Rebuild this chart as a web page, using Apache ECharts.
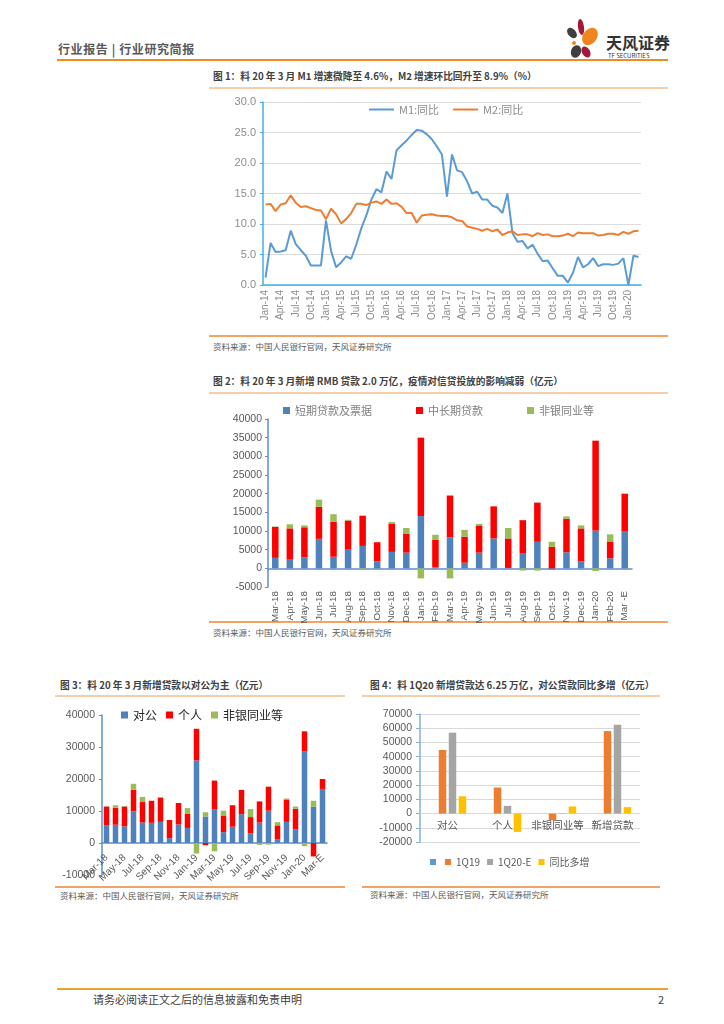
<!DOCTYPE html>
<html><head><meta charset="utf-8">
<script src="https://cdn.jsdelivr.net/npm/echarts/dist/echarts.min.js"></script>
<style>
body{margin:0;background:#fff;width:724px;height:1024px;position:relative;overflow:hidden;font-family:"Noto Sans CJK SC","Noto Sans",sans-serif;}
.t{position:absolute;white-space:nowrap;line-height:1.2;}
.ttl{font-size:9.7px;font-weight:bold;color:#404040;}
.src{font-size:8.5px;color:#595959;}
.ch{position:absolute;left:0;top:0;width:724px;height:1024px;}
.ln{position:absolute;}
.pt{position:absolute;border-radius:50%;}
</style></head>
<body>
<!-- header -->
<div class="t" style="left:58px;top:42px;font-size:12px;letter-spacing:0.6px;font-weight:bold;color:#595959;">行业报告 | 行业研究简报</div>
<div class="pt" style="left:568px;top:27px;width:8px;height:12px;background:#3f3f3f;transform:rotate(-40deg);"></div>
<div class="pt" style="left:578px;top:19px;width:6px;height:16px;background:#a3193a;transform:rotate(-8deg);"></div>
<div class="pt" style="left:583px;top:27px;width:14px;height:19px;background:#f0851e;transform:rotate(35deg);"></div>
<div class="pt" style="left:572px;top:41px;width:4px;height:4px;background:#f0851e;"></div>
<div class="pt" style="left:571px;top:45px;width:10px;height:13px;background:#3f3f3f;transform:rotate(20deg);"></div>
<div class="pt" style="left:582px;top:46px;width:8px;height:12px;background:#a3193a;transform:rotate(-30deg);"></div>
<div class="t" style="left:606px;top:33px;font-size:16px;font-weight:bold;color:#333;">天风证券</div>
<div class="t" style="left:608px;top:52px;font-size:6px;color:#333;">TF SECURITIES</div>
<div class="ln" style="left:57px;top:59px;width:611px;height:2px;background:#f08c1e;"></div>

<!-- chart 1 text -->
<div class="t ttl" style="left:213px;top:71px;">图 1：料 20 年 3 月 M1 增速微降至 4.6%，M2 增速环比回升至 8.9%（%）</div>
<div class="ln" style="left:209px;top:87px;width:459px;height:2px;background:#f8cdaa;"></div>
<div class="ln" style="left:209px;top:335px;width:459px;height:1.5px;background:#f2a366;"></div>
<div class="t src" style="left:213px;top:341px;">资料来源：中国人民银行官网，天风证券研究所</div>

<!-- chart 2 text -->
<div class="t ttl" style="left:213px;top:376px;">图 2：料 20 年 3 月新增 RMB 贷款 2.0 万亿，疫情对信贷投放的影响减弱（亿元）</div>
<div class="ln" style="left:209px;top:392px;width:459px;height:2px;background:#f8cdaa;"></div>
<div class="ln" style="left:209px;top:621px;width:459px;height:1.5px;background:#f2a366;"></div>
<div class="t src" style="left:213px;top:627px;">资料来源：中国人民银行官网，天风证券研究所</div>

<!-- chart 3 text -->
<div class="t ttl" style="left:60px;top:680px;">图 3：料 20 年 3 月新增贷款以对公为主（亿元）</div>
<div class="ln" style="left:55px;top:695px;width:290px;height:2px;background:#f8cdaa;"></div>
<div class="ln" style="left:55px;top:886px;width:290px;height:1.5px;background:#f2a366;"></div>
<div class="t src" style="left:60px;top:890px;">资料来源：中国人民银行官网，天风证券研究所</div>

<!-- chart 4 text -->
<div class="t ttl" style="left:370px;top:680px;">图 4：料 1Q20 新增贷款达 6.25 万亿，对公贷款同比多增（亿元）</div>
<div class="ln" style="left:362px;top:695px;width:298px;height:2px;background:#f8cdaa;"></div>
<div class="ln" style="left:362px;top:886px;width:298px;height:1.5px;background:#f2a366;"></div>
<div class="t src" style="left:370px;top:889px;">资料来源：中国人民银行官网，天风证券研究所</div>

<!-- footer -->
<div class="ln" style="left:57px;top:988px;width:611px;height:2px;background:#f0a030;"></div>
<div class="t" style="left:93px;top:993px;font-size:11px;color:#404040;">请务必阅读正文之后的信息披露和免责申明</div>
<div class="t" style="left:658px;top:993px;font-size:11px;color:#404040;">2</div>

<div id="c1" class="ch"></div>
<div id="c2" class="ch"></div>
<div id="c3" class="ch"></div>
<div id="c4" class="ch"></div>

<script>
// ---------- Chart 1 data ----------
const months1 = [
'Jan-14','Feb-14','Mar-14','Apr-14','May-14','Jun-14','Jul-14','Aug-14','Sep-14','Oct-14','Nov-14','Dec-14',
'Jan-15','Feb-15','Mar-15','Apr-15','May-15','Jun-15','Jul-15','Aug-15','Sep-15','Oct-15','Nov-15','Dec-15',
'Jan-16','Feb-16','Mar-16','Apr-16','May-16','Jun-16','Jul-16','Aug-16','Sep-16','Oct-16','Nov-16','Dec-16',
'Jan-17','Feb-17','Mar-17','Apr-17','May-17','Jun-17','Jul-17','Aug-17','Sep-17','Oct-17','Nov-17','Dec-17',
'Jan-18','Feb-18','Mar-18','Apr-18','May-18','Jun-18','Jul-18','Aug-18','Sep-18','Oct-18','Nov-18','Dec-18',
'Jan-19','Feb-19','Mar-19','Apr-19','May-19','Jun-19','Jul-19','Aug-19','Sep-19','Oct-19','Nov-19','Dec-19',
'Jan-20','Feb-20','Mar-20'];
const m1 = [
1.2,6.9,5.4,5.5,5.7,8.9,6.7,5.7,4.8,3.2,3.2,3.2,
10.6,5.6,2.9,3.7,4.7,4.3,6.6,9.3,11.4,14.0,15.7,15.2,
18.6,17.4,22.1,22.9,23.7,24.6,25.4,25.3,24.7,23.9,22.7,21.4,
14.5,21.4,18.8,18.5,17.0,15.0,15.3,14.0,14.0,13.0,12.7,11.8,
15.0,8.5,7.1,7.2,6.0,6.6,5.1,3.9,4.0,2.7,1.5,1.5,
0.4,2.0,4.6,2.9,3.4,4.4,3.1,3.4,3.4,3.3,3.5,4.4,
0.0,4.8,4.6];
const m2 = [
13.2,13.3,12.1,13.2,13.4,14.7,13.5,12.8,12.9,12.6,12.3,12.2,
10.8,12.5,11.6,10.1,10.8,11.8,13.3,13.3,13.1,13.5,13.7,13.3,
14.0,13.3,13.4,12.8,11.8,11.8,10.2,11.4,11.5,11.6,11.4,11.3,
11.3,11.1,10.6,10.5,9.6,9.4,9.2,8.9,9.2,8.8,9.1,8.2,
8.6,8.8,8.2,8.3,8.3,8.0,8.5,8.2,8.3,8.0,8.0,8.1,
8.4,8.0,8.6,8.5,8.5,8.5,8.1,8.2,8.4,8.4,8.2,8.7,
8.4,8.8,8.9];

// ---------- Chart 2 data ----------
const months2 = ['Mar-18','Apr-18','May-18','Jun-18','Jul-18','Aug-18','Sep-18','Oct-18','Nov-18','Dec-18','Jan-19','Feb-19','Mar-19','Apr-19','May-19','Jun-19','Jul-19','Aug-19','Sep-19','Oct-19','Nov-19','Dec-19','Jan-20','Feb-20','Mar -E'];
const shortLoans = [2800,2500,3000,7900,3100,5000,6000,1900,4400,4200,14000,300,8300,1500,4200,8000,100,4100,7100,-300,4300,1900,10100,2700,10000];
const mltLoans   = [8300,8200,8000,8600,9400,7800,8100,5100,7600,5000,21000,7300,11200,7000,7300,8600,7900,8800,10500,5800,9000,8800,24100,4500,10000];
const otherLoans2= [100,1100,500,1900,2000,200,-200,0,400,1600,-2700,1400,-2700,1800,400,0,2800,-600,-600,1300,600,800,-700,1900,0];

// ---------- Chart 3 data ----------
const months3 = ['Mar-18','Apr-18','May-18','Jun-18','Jul-18','Aug-18','Sep-18','Oct-18','Nov-18','Dec-18','Jan-19','Feb-19','Mar-19','Apr-19','May-19','Jun-19','Jul-19','Aug-19','Sep-19','Oct-19','Nov-19','Dec-19','Jan-20','Feb-20','Mar-E'];
const corpLoans  = [5600,5700,5200,9900,6400,6300,6600,1500,5800,4700,25800,8300,10600,3400,5100,9000,3000,6400,10100,1200,6600,4200,28600,11300,16900];
const persLoans  = [5800,5300,6200,6700,6400,6900,7600,5700,6700,4500,9900,-700,8900,5200,6700,7600,5100,6600,7500,4300,7000,6500,6300,-4200,3100];
const otherLoans3= [0,800,100,1900,1600,-200,-200,0,0,1700,-3300,1300,-2600,1500,0,0,2500,-600,-500,1000,300,700,-1000,1900,0];

// ---------- Chart 4 data ----------
const cats4 = ['对公','个人','非银同业等','新增贷款'];
const q1_19 = [44700,18300,-4700,58000];
const q1_20E = [56900,5400,300,62500];
const yoyAdd = [12200,-12900,5000,4500];

const FONT = '"Liberation Sans","Noto Sans CJK SC",sans-serif';
const CJK = '"Noto Sans CJK SC",sans-serif';
const plain = v => String(v);

// ---------- Chart 1 ----------
const axisCyan = '#3fb0e6';
echarts.init(document.getElementById('c1')).setOption({
  animation:false,
  textStyle:{fontFamily:FONT},
  legend:{left:363, top:99, itemWidth:25, itemHeight:2, itemGap:13,
    textStyle:{color:'#8c8c8c',fontSize:11,fontFamily:CJK},
    data:['M1:同比','M2:同比']},
  grid:{left:263, right:83, top:102, bottom:739, containLabel:false},
  xAxis:{type:'category', data:months1, boundaryGap:true,
    axisLine:{lineStyle:{color:axisCyan,width:1.5}},
    axisTick:{interval:0,length:3,lineStyle:{color:axisCyan}},
    axisLabel:{interval:2, rotate:90, fontSize:10, color:'#8c8c8c', margin:5}},
  yAxis:{type:'value', min:0, max:30, interval:5,
    axisLine:{show:true,lineStyle:{color:axisCyan,width:1.5}},
    axisTick:{show:true,length:3,lineStyle:{color:axisCyan}},
    axisLabel:{formatter:v=>v.toFixed(1), color:'#8c8c8c', fontSize:11, margin:7},
    splitLine:{lineStyle:{color:'#dcdcdc'}}},
  series:[
    {name:'M1:同比', type:'line', data:m1, symbol:'none', lineStyle:{width:2,color:'#5b9bd5'}, itemStyle:{color:'#5b9bd5'}},
    {name:'M2:同比', type:'line', data:m2, symbol:'none', lineStyle:{width:2,color:'#ed7d31'}, itemStyle:{color:'#ed7d31'}}
  ]
});

// ---------- Chart 2 ----------
const blue2 = '#5b8fd0';
echarts.init(document.getElementById('c2')).setOption({
  animation:false,
  textStyle:{fontFamily:FONT},
  legend:{left:278, top:400, itemWidth:7, itemHeight:7, itemGap:44, icon:'rect',
    textStyle:{color:'#7f7f7f',fontSize:11,fontFamily:CJK},
    data:['短期贷款及票据','中长期贷款','非银同业等']},
  grid:{left:268, right:92, top:419, bottom:437},
  xAxis:[
    {type:'category', data:months2, position:'bottom',
      axisLine:{onZero:true,lineStyle:{color:blue2,width:1.5}},
      axisTick:{length:3,lineStyle:{color:blue2}},
      axisLabel:{show:false}},
    {type:'category', data:months2, position:'bottom',
      axisLine:{show:false,onZero:false}, axisTick:{show:false},
      axisLabel:{interval:0, rotate:90, fontSize:9.8, color:'#595959', margin:4}}
  ],
  yAxis:{type:'value', min:-5000, max:40000, interval:5000,
    axisLine:{show:true,lineStyle:{color:blue2,width:1.5}},
    axisTick:{show:true,length:3,lineStyle:{color:blue2}},
    axisLabel:{formatter:plain, color:'#595959', fontSize:10.5, margin:6},
    splitLine:{show:false}},
  series:[
    {name:'短期贷款及票据', type:'bar', stack:'a', data:shortLoans, barWidth:6.5, itemStyle:{color:'#4f81bd'}},
    {name:'中长期贷款', type:'bar', stack:'a', data:mltLoans, barWidth:6.5, itemStyle:{color:'#ff0000'}},
    {name:'非银同业等', type:'bar', stack:'a', data:otherLoans2, barWidth:6.5, itemStyle:{color:'#9bbb59'}}
  ]
});

// ---------- Chart 3 ----------
echarts.init(document.getElementById('c3')).setOption({
  animation:false,
  textStyle:{fontFamily:FONT},
  legend:{left:116, top:704, itemWidth:7, itemHeight:7, itemGap:9, icon:'rect',
    textStyle:{color:'#262626',fontSize:12,fontFamily:CJK},
    data:['对公','个人','非银同业等']},
  grid:{left:102, right:397, top:715, bottom:149},
  xAxis:{type:'category', data:months3,
    axisLine:{onZero:true,lineStyle:{color:blue2,width:1.5}},
    axisTick:{length:3,lineStyle:{color:blue2}},
    axisLabel:{interval:1, rotate:45, fontSize:10, color:'#595959', margin:-19}},
  yAxis:{type:'value', min:-10000, max:40000, interval:10000,
    axisLine:{show:true,lineStyle:{color:blue2,width:1.5}},
    axisTick:{show:true,length:3,lineStyle:{color:blue2}},
    axisLabel:{formatter:plain, color:'#595959', fontSize:10.5, margin:7},
    splitLine:{show:false}},
  series:[
    {name:'对公', type:'bar', stack:'a', data:corpLoans, barWidth:5.5, itemStyle:{color:'#4f81bd'}},
    {name:'个人', type:'bar', stack:'a', data:persLoans, barWidth:5.5, itemStyle:{color:'#ff0000'}},
    {name:'非银同业等', type:'bar', stack:'a', data:otherLoans3, barWidth:5.5, itemStyle:{color:'#9bbb59'}}
  ]
});

// ---------- Chart 4 ----------
echarts.init(document.getElementById('c4')).setOption({
  animation:false,
  textStyle:{fontFamily:FONT},
  legend:[
    {left:425, top:852, itemWidth:6, itemHeight:6, icon:'rect',
      textStyle:{color:'#595959',fontSize:10,fontFamily:CJK}, data:[' ']},
    {left:440, top:852, itemWidth:6, itemHeight:6, itemGap:7, icon:'rect',
      textStyle:{color:'#595959',fontSize:10,fontFamily:CJK}, data:['1Q19','1Q20-E','同比多增']}
  ],
  grid:{left:420, right:84, top:714, bottom:182},
  xAxis:{type:'category', data:cats4,
    axisLine:{show:true,onZero:true,lineStyle:{color:'#d9d9d9'}},
    axisTick:{show:false},
    axisLabel:{interval:0, color:'#595959', fontSize:10.5, margin:-22, fontFamily:CJK}},
  yAxis:{type:'value', min:-20000, max:70000, interval:10000,
    axisLine:{show:true,lineStyle:{color:'#7fb2e0',width:1.5}},
    axisTick:{show:true,length:4,lineStyle:{color:'#7fb2e0'}},
    axisLabel:{formatter:plain, color:'#595959', fontSize:10.5, margin:8},
    splitLine:{lineStyle:{color:'#d9d9d9'}}},
  series:[
    {name:' ', type:'bar', data:[], barWidth:7.5, barGap:'33%', itemStyle:{color:'#5b9bd5'}},
    {name:'1Q19', type:'bar', data:q1_19, barWidth:7.5, barGap:'33%', itemStyle:{color:'#ed7d31'}},
    {name:'1Q20-E', type:'bar', data:q1_20E, barWidth:7.5, barGap:'33%', itemStyle:{color:'#a5a5a5'}},
    {name:'同比多增', type:'bar', data:yoyAdd, barWidth:7.5, barGap:'33%', itemStyle:{color:'#ffc000'}}
  ]
});
</script>
</body></html>
